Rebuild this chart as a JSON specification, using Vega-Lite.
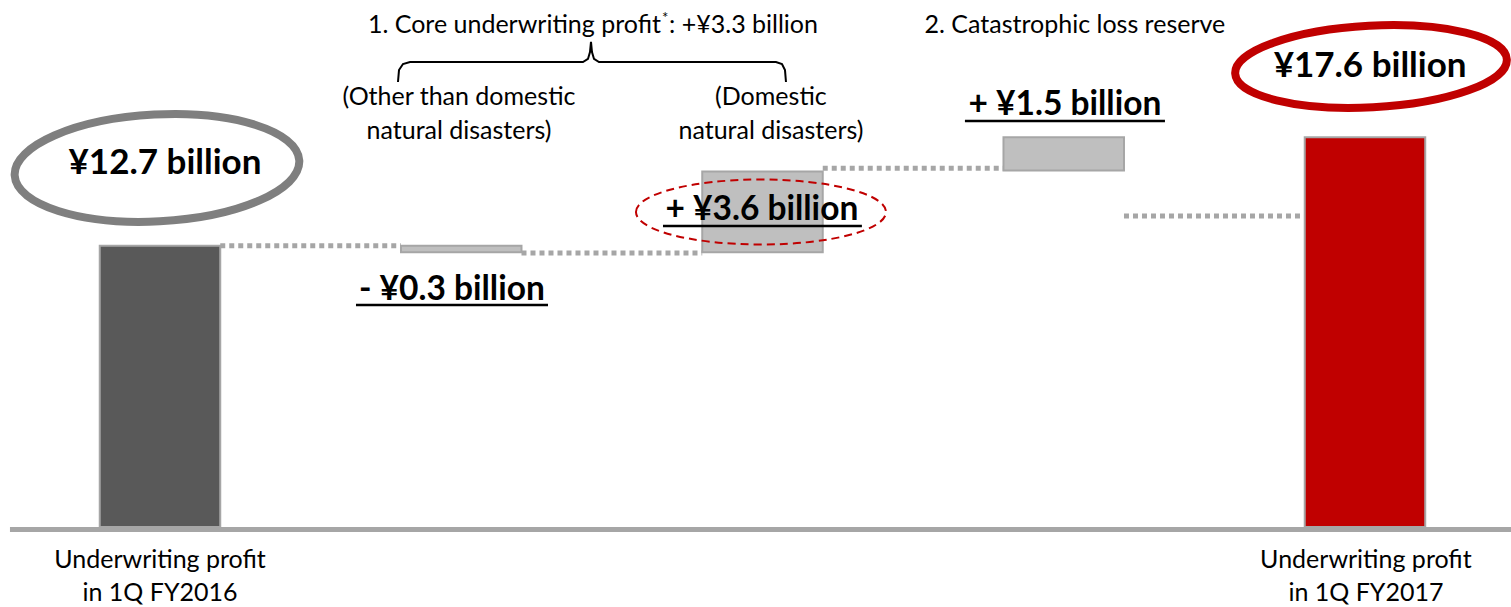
{
  "$schema": "https://vega.github.io/schema/vega-lite/v6.json",
  "width": 1511,
  "height": 607,
  "autosize": {"type": "none"},
  "padding": 0,
  "background": "white",
  "config": {"view": {"stroke": null}, "text": {"font": "Lato"}},
  "datasets": {
    "bars": [
      {"item": "Underwriting profit 1Q FY2016", "x0": -0.2, "x1": 0.2, "start": 0, "end": 12.7, "type": "total2016"},
      {"item": "Other than domestic natural disasters", "x0": 0.8, "x1": 1.2, "start": 12.7, "end": 12.4, "type": "change"},
      {"item": "Domestic natural disasters", "x0": 1.8, "x1": 2.2, "start": 12.4, "end": 16.05, "type": "change"},
      {"item": "Catastrophic loss reserve", "x0": 2.8, "x1": 3.2, "start": 16.1, "end": 17.6, "type": "change"},
      {"item": "Underwriting profit 1Q FY2017", "x0": 3.8, "x1": 4.2, "start": 0, "end": 17.6, "type": "total2017"}
    ],
    "connectors": [
      {"a": 0.2, "b": 0.8, "v": 12.7},
      {"a": 1.2, "b": 1.8, "v": 12.37},
      {"a": 2.2, "b": 2.8, "v": 16.2},
      {"a": 3.2, "b": 3.8, "v": 14.04}
    ],
    "brace": [
      {"o": 1, "bx": 0.79, "by": 20.09},
      {"o": 2, "bx": 0.7934, "by": 20.63},
      {"o": 3, "bx": 0.8066, "by": 20.9},
      {"o": 4, "bx": 0.8299, "by": 20.99},
      {"o": 5, "bx": 1.4041, "by": 20.99},
      {"o": 6, "bx": 1.4207, "by": 21.13},
      {"o": 7, "bx": 1.4274, "by": 21.44},
      {"o": 8, "bx": 1.4307, "by": 21.9},
      {"o": 9, "bx": 1.434, "by": 21.44},
      {"o": 10, "bx": 1.4407, "by": 21.13},
      {"o": 11, "bx": 1.4573, "by": 20.99},
      {"o": 12, "bx": 2.0448, "by": 20.99},
      {"o": 13, "bx": 2.0647, "by": 20.9},
      {"o": 14, "bx": 2.0747, "by": 20.63},
      {"o": 15, "bx": 2.078, "by": 20.09}
    ]
  },
  "layer": [
    {
      "data": {"values": [{"a": -0.498, "b": 4.485, "v": -0.11}]},
      "mark": {"type": "rule", "stroke": "#a6a6a6", "strokeWidth": 5},
      "encoding": {
        "x": {"field": "a", "type": "quantitative", "scale": {"domain": [-0.5311, 4.4847], "nice": false, "zero": false}, "axis": null},
        "x2": {"field": "b"},
        "y": {"field": "v", "type": "quantitative", "scale": {"domain": [-3.6117, 23.7923], "nice": false, "zero": false}, "axis": null}
      }
    },
    {
      "data": {"name": "bars"},
      "mark": {"type": "rect", "stroke": "#a6a6a6", "strokeWidth": 2},
      "encoding": {
        "x": {"field": "x0", "type": "quantitative"},
        "x2": {"field": "x1"},
        "y": {"field": "start", "type": "quantitative"},
        "y2": {"field": "end"},
        "fill": {"field": "type", "type": "nominal", "scale": {"domain": ["total2016", "change", "total2017"], "range": ["#595959", "#bfbfbf", "#c00000"]}, "legend": null}
      }
    },
    {
      "data": {"name": "connectors"},
      "mark": {"type": "rule", "stroke": "#a6a6a6", "strokeWidth": 5, "strokeDash": [5, 4]},
      "encoding": {
        "x": {"field": "a", "type": "quantitative"},
        "x2": {"field": "b"},
        "y": {"field": "v", "type": "quantitative"}
      }
    },
    {
      "data": {"name": "brace"},
      "mark": {"type": "line", "stroke": "black", "strokeWidth": 2},
      "encoding": {
        "x": {"field": "bx", "type": "quantitative"},
        "y": {"field": "by", "type": "quantitative"},
        "order": {"field": "o", "type": "quantitative"}
      }
    },
    {
      "data": {"values": [{"px": -0.01, "py": 16.21}]},
      "mark": {"type": "point", "shape": "M -1 0 A 1 0.375 0 1 1 1 0 A 1 0.375 0 1 1 -1 0 Z", "size": 81225, "filled": false, "stroke": "#7f7f7f", "strokeWidth": 8, "opacity": 1, "angle": -3},
      "encoding": {"x": {"field": "px", "type": "quantitative"}, "y": {"field": "py", "type": "quantitative"}}
    },
    {
      "data": {"values": [{"px": 4.02, "py": 20.79}]},
      "mark": {"type": "point", "shape": "M -1 0 A 1 0.3 0 1 1 1 0 A 1 0.3 0 1 1 -1 0 Z", "size": 73984, "filled": false, "stroke": "#c00000", "strokeWidth": 8, "opacity": 1, "angle": -3},
      "encoding": {"x": {"field": "px", "type": "quantitative"}, "y": {"field": "py", "type": "quantitative"}}
    },
    {
      "data": {"values": [{"px": 1.995, "py": 14.22}]},
      "mark": {"type": "point", "shape": "M -1 0 A 1 0.26 0 1 1 1 0 A 1 0.26 0 1 1 -1 0 Z", "size": 62500, "filled": false, "stroke": "#c00000", "strokeWidth": 2, "strokeDash": [8, 5], "opacity": 1},
      "encoding": {"x": {"field": "px", "type": "quantitative"}, "y": {"field": "py", "type": "quantitative"}}
    },
    {
      "data": {"values": [
        {"a": 0.6506, "b": 1.288, "v": 10.02},
        {"a": 1.6697, "b": 2.33, "v": 13.59},
        {"a": 2.672, "b": 3.336, "v": 18.33}
      ]},
      "mark": {"type": "rule", "stroke": "black", "strokeWidth": 2.5},
      "encoding": {
        "x": {"field": "a", "type": "quantitative"},
        "x2": {"field": "b"},
        "y": {"field": "v", "type": "quantitative"}
      }
    },
    {
      "data": {"values": [
        {"tx": 0.969, "ty": 10.7, "label": "- ¥0.3 billion"},
        {"tx": 1.998, "ty": 14.31, "label": "+ ¥3.6 billion"},
        {"tx": 3.004, "ty": 19.05, "label": "+ ¥1.5 billion"}
      ]},
      "mark": {"type": "text", "fontWeight": "bold", "fontSize": 33.5, "align": "center", "baseline": "middle", "color": "black"},
      "encoding": {"x": {"field": "tx", "type": "quantitative"}, "y": {"field": "ty", "type": "quantitative"}, "text": {"field": "label"}}
    },
    {
      "data": {"values": [
        {"tx": 0.0166, "ty": 16.43, "label": "¥12.7 billion"},
        {"tx": 4.017, "ty": 20.81, "label": "¥17.6 billion"}
      ]},
      "mark": {"type": "text", "fontWeight": "bold", "fontSize": 35, "align": "center", "baseline": "middle", "color": "black"},
      "encoding": {"x": {"field": "tx", "type": "quantitative"}, "y": {"field": "ty", "type": "quantitative"}, "text": {"field": "label"}}
    },
    {
      "data": {"values": [
        {"tx": 0.9925, "ty": 19.41, "label": "(Other than domestic\nnatural disasters)"},
        {"tx": 2.028, "ty": 19.41, "label": "(Domestic\nnatural disasters)"},
        {"tx": 3.037, "ty": 22.66, "label": "2. Catastrophic loss reserve"}
      ]},
      "mark": {"type": "text", "fontSize": 25, "align": "center", "baseline": "middle", "lineBreak": "\n", "lineHeight": 34, "color": "black"},
      "encoding": {"x": {"field": "tx", "type": "quantitative"}, "y": {"field": "ty", "type": "quantitative"}, "text": {"field": "label"}}
    },
    {
      "data": {"values": [
        {"tx": 0, "ty": -1.49, "label": "Underwriting profit\nin 1Q FY2016"},
        {"tx": 4.003, "ty": -1.49, "label": "Underwriting profit\nin 1Q FY2017"}
      ]},
      "mark": {"type": "text", "fontSize": 25, "align": "center", "baseline": "middle", "lineBreak": "\n", "lineHeight": 33, "color": "black"},
      "encoding": {"x": {"field": "tx", "type": "quantitative"}, "y": {"field": "ty", "type": "quantitative"}, "text": {"field": "label"}}
    },
    {
      "data": {"values": [{"tx": 1.663, "ty": 22.66, "label": "1. Core underwriting profit"}]},
      "mark": {"type": "text", "fontSize": 25, "align": "right", "baseline": "middle", "color": "black"},
      "encoding": {"x": {"field": "tx", "type": "quantitative"}, "y": {"field": "ty", "type": "quantitative"}, "text": {"field": "label"}}
    },
    {
      "data": {"values": [{"tx": 1.677, "ty": 23.0, "label": "*"}]},
      "mark": {"type": "text", "fontSize": 15, "align": "center", "baseline": "middle", "color": "black"},
      "encoding": {"x": {"field": "tx", "type": "quantitative"}, "y": {"field": "ty", "type": "quantitative"}, "text": {"field": "label"}}
    },
    {
      "data": {"values": [{"tx": 1.69, "ty": 22.66, "label": ": +¥3.3 billion"}]},
      "mark": {"type": "text", "fontSize": 25, "align": "left", "baseline": "middle", "color": "black"},
      "encoding": {"x": {"field": "tx", "type": "quantitative"}, "y": {"field": "ty", "type": "quantitative"}, "text": {"field": "label"}}
    }
  ]
}
